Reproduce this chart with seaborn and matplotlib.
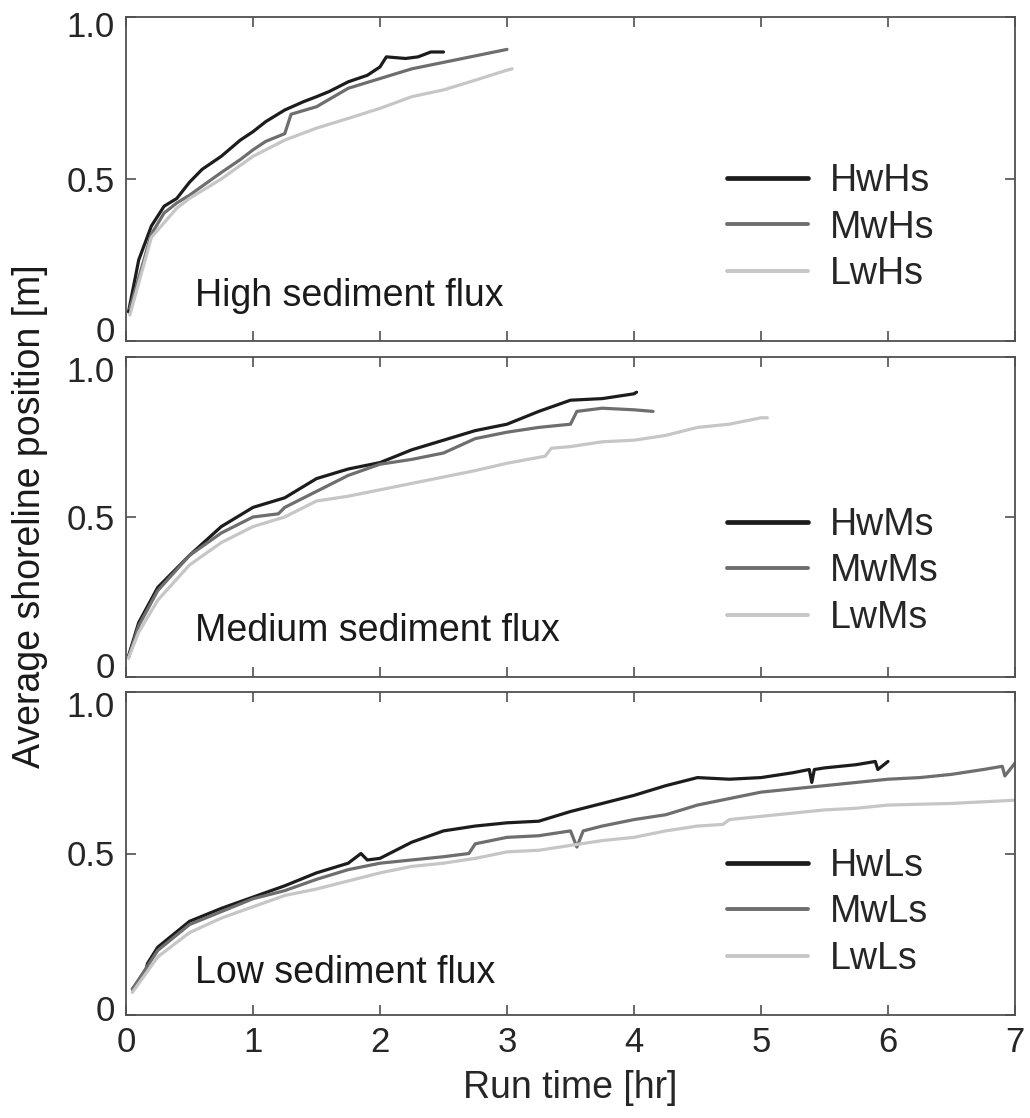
import numpy as np
import pandas as pd
import matplotlib
matplotlib.use("Agg")
import matplotlib.pyplot as plt
import matplotlib.transforms as mtrans
import seaborn as sns

# ---------------- data ----------------
# High sediment flux
t_HwHs = [0.02, 0.1, 0.2, 0.3, 0.4, 0.5, 0.6, 0.75, 0.9, 1.0, 1.1, 1.25, 1.4, 1.5,
          1.6, 1.75, 1.9, 2.0, 2.05, 2.2, 2.3, 2.4, 2.5]
y_HwHs = [0.09, 0.25, 0.355, 0.416, 0.44, 0.49, 0.53, 0.57, 0.62, 0.646, 0.677, 0.713,
          0.739, 0.754, 0.77, 0.80, 0.82, 0.846, 0.877, 0.872, 0.877, 0.892, 0.892]
t_MwHs = [0.03, 0.2, 0.3, 0.4, 0.5, 0.75, 0.9, 1.0, 1.1, 1.25, 1.3, 1.5, 1.75, 2.0,
          2.25, 2.5, 2.75, 3.0]
y_MwHs = [0.10, 0.33, 0.395, 0.426, 0.45, 0.52, 0.56, 0.59, 0.616, 0.64, 0.70, 0.723,
          0.78, 0.81, 0.84, 0.86, 0.88, 0.90]
t_LwHs = [0.03, 0.2, 0.4, 0.5, 0.75, 1.0, 1.25, 1.5, 1.75, 2.0, 2.25, 2.5, 2.75, 3.0, 3.04]
y_LwHs = [0.08, 0.32, 0.41, 0.44, 0.50, 0.57, 0.62, 0.657, 0.687, 0.718, 0.754, 0.775,
          0.805, 0.836, 0.84]

# Medium sediment flux
t_HwMs = [0.02, 0.1, 0.25, 0.5, 0.75, 1.0, 1.25, 1.5, 1.75, 2.0, 2.25, 2.5, 2.75, 3.0,
          3.25, 3.5, 3.75, 4.0, 4.02]
y_HwMs = [0.066, 0.17, 0.28, 0.38, 0.47, 0.53, 0.56, 0.62, 0.65, 0.67, 0.71, 0.74, 0.77,
          0.79, 0.83, 0.865, 0.87, 0.885, 0.89]
t_MwMs = [0.02, 0.1, 0.25, 0.5, 0.75, 1.0, 1.2, 1.25, 1.5, 1.75, 2.0, 2.25, 2.5, 2.75,
          3.0, 3.25, 3.5, 3.55, 3.75, 4.0, 4.15]
y_MwMs = [0.06, 0.16, 0.27, 0.38, 0.45, 0.50, 0.51, 0.53, 0.58, 0.63, 0.665, 0.68, 0.70,
          0.745, 0.765, 0.78, 0.79, 0.83, 0.84, 0.835, 0.83]
t_LwMs = [0.02, 0.1, 0.25, 0.5, 0.75, 1.0, 1.25, 1.5, 1.75, 2.0, 2.25, 2.5, 2.75, 3.0,
          3.3, 3.35, 3.5, 3.75, 4.0, 4.25, 4.5, 4.75, 5.0, 5.05]
y_LwMs = [0.06, 0.14, 0.24, 0.35, 0.42, 0.47, 0.50, 0.55, 0.565, 0.585, 0.605, 0.625,
          0.645, 0.668, 0.69, 0.715, 0.72, 0.735, 0.74, 0.755, 0.78, 0.79, 0.81, 0.81]

# Low sediment flux
t_HwLs = [0.05, 0.15, 0.17, 0.25, 0.5, 0.75, 1.0, 1.25, 1.5, 1.75, 1.85, 1.9, 2.0, 2.25,
          2.5, 2.75, 3.0, 3.25, 3.5, 3.75, 4.0, 4.25, 4.5, 4.75, 5.0, 5.25, 5.38, 5.4,
          5.42, 5.5, 5.75, 5.9, 5.92, 6.0]
y_HwLs = [0.08, 0.13, 0.16, 0.21, 0.29, 0.33, 0.365, 0.40, 0.44, 0.47, 0.50, 0.48, 0.485,
          0.535, 0.57, 0.585, 0.595, 0.60, 0.63, 0.655, 0.68, 0.71, 0.735, 0.73, 0.735,
          0.75, 0.76, 0.72, 0.76, 0.765, 0.775, 0.785, 0.76, 0.785]
t_MwLs = [0.05, 0.25, 0.5, 0.75, 1.0, 1.25, 1.5, 1.75, 2.0, 2.25, 2.5, 2.7, 2.75, 3.0,
          3.25, 3.5, 3.55, 3.6, 3.75, 4.0, 4.25, 4.5, 4.75, 5.0, 5.25, 5.5, 5.75, 6.0,
          6.25, 6.5, 6.75, 6.9, 6.92, 7.0]
y_MwLs = [0.08, 0.20, 0.28, 0.32, 0.36, 0.385, 0.42, 0.45, 0.47, 0.48, 0.49, 0.50, 0.53,
          0.55, 0.555, 0.57, 0.52, 0.57, 0.585, 0.605, 0.62, 0.65, 0.67, 0.69, 0.70, 0.71,
          0.72, 0.73, 0.735, 0.745, 0.76, 0.77, 0.74, 0.78]
t_LwLs = [0.05, 0.25, 0.5, 0.75, 1.0, 1.25, 1.5, 1.75, 2.0, 2.25, 2.5, 2.75, 3.0, 3.25,
          3.5, 3.75, 4.0, 4.25, 4.5, 4.7, 4.75, 5.0, 5.25, 5.5, 5.75, 6.0, 6.5, 7.0]
y_LwLs = [0.07, 0.18, 0.255, 0.30, 0.335, 0.37, 0.39, 0.415, 0.44, 0.46, 0.47, 0.485,
          0.505, 0.51, 0.525, 0.54, 0.55, 0.57, 0.585, 0.59, 0.605, 0.615, 0.625, 0.635,
          0.64, 0.65, 0.655, 0.665]

panel_texts = ["High sediment flux", "Medium sediment flux", "Low sediment flux"]
series_labels = [["HwHs", "MwHs", "LwHs"], ["HwMs", "MwMs", "LwMs"], ["HwLs", "MwLs", "LwLs"]]
series_t = [[t_HwHs, t_MwHs, t_LwHs], [t_HwMs, t_MwMs, t_LwMs], [t_HwLs, t_MwLs, t_LwLs]]
series_y = [[y_HwHs, y_MwHs, y_LwHs], [y_HwMs, y_MwMs, y_LwMs], [y_HwLs, y_MwLs, y_LwLs]]
x_ticks = [0, 1, 2, 3, 4, 5, 6, 7]
y_ticks = [0, 0.5, 1.0]
y_ticklabels = ["0", "0.5", "1.0"]
x_label = "Run time [hr]"
y_label = "Average shoreline position [m]"

# ---------------- style ----------------
sns.set_style("ticks")
plt.rcParams["font.family"] = ["Liberation Sans", "DejaVu Sans"]

colors = ["#1c1c1c", "#6e6e6e", "#c6c6c6"]
W, H = 1030, 1118
fig = plt.figure(figsize=(W / 100, H / 100), dpi=100)

left = 126 / W
width = 889 / W
panels_px = [(17, 341), (357, 677), (692, 1015)]
text_y = [0.14, 0.145, 0.13]
leg_y = [0.35, 0.33, 0.318]
# inward shift (px) of the "0" and "1.0" tick labels of each panel
shift_bottom = [12, 12, 7]
shift_top = [7, 12, 12]

spine_col = "#505050"
for i, (top, bot) in enumerate(panels_px):
    ax = fig.add_axes([left, 1 - bot / H, width, (bot - top) / H])
    for j in range(3):
        df = pd.DataFrame({"t": series_t[i][j], "pos": series_y[i][j]})
        sns.lineplot(data=df, x="t", y="pos", ax=ax, color=colors[j], lw=2.3,
                     estimator=None, sort=False, label=series_labels[i][j])
    ax.set_xlim(0, 7)
    ax.set_ylim(0, 1)
    ax.set_xticks(x_ticks)
    ax.set_yticks(y_ticks)
    ax.set_yticklabels(y_ticklabels)
    ax.tick_params(direction="in", top=True, right=True, length=7, width=1.2,
                   color=spine_col, labelsize=25, pad=8)
    for s in ax.spines.values():
        s.set_visible(True)
        s.set_color(spine_col)
        s.set_linewidth(1.3)
    ax.set_xlabel("")
    ax.set_ylabel("")
    if i < 2:
        ax.tick_params(labelbottom=False)
    else:
        ax.set_xlabel(x_label, fontsize=27, labelpad=8)
    yt = ax.yaxis.get_major_ticks()
    yt[0].label1.set_transform(yt[0].label1.get_transform() +
                               mtrans.ScaledTranslation(0, shift_bottom[i] / 100,
                                                        fig.dpi_scale_trans))
    yt[-1].label1.set_transform(yt[-1].label1.get_transform() +
                                mtrans.ScaledTranslation(0, -shift_top[i] / 100,
                                                         fig.dpi_scale_trans))
    ax.text(0.54, text_y[i], panel_texts[i], fontsize=27, va="center", ha="left",
            color="#1a1a1a")
    ax.legend(loc="center left", bbox_to_anchor=(0.676, leg_y[i]), frameon=False,
              fontsize=27, borderpad=0, borderaxespad=0, handlelength=2.15,
              handletextpad=0.6, labelspacing=0.28)
    for k, line in enumerate(ax.get_legend().get_lines()):
        line.set_linewidth(3.4 if k == 0 else 2.8)

fig.text(30 / W, 1 - 516 / H, y_label, rotation=90, ha="center", va="center",
         fontsize=27, color="#1a1a1a")

fig.savefig("out.png", dpi=100)
